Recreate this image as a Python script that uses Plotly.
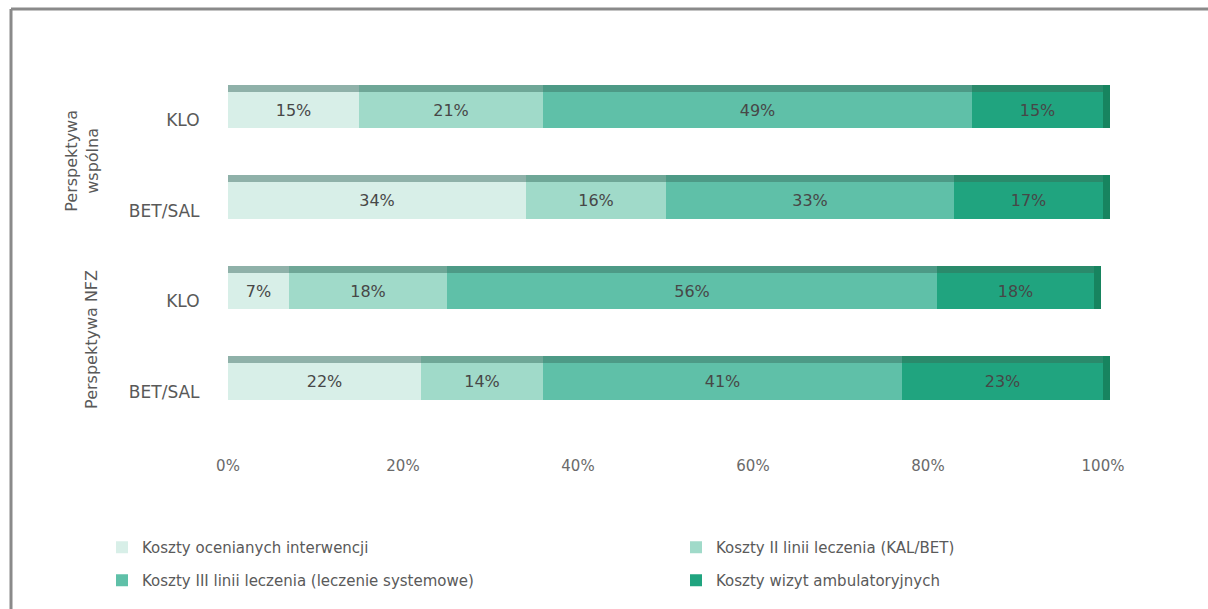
import plotly.graph_objects as go

# Cost structure by perspective and treatment arm (percent of total cost)
bar_labels = ["KLO", "BET/SAL", "KLO", "BET/SAL"]
group_labels = ["Perspektywa<br>wspólna", "Perspektywa NFZ"]
series_names = [
    "Koszty ocenianych interwencji",
    "Koszty II linii leczenia (KAL/BET)",
    "Koszty III linii leczenia (leczenie systemowe)",
    "Koszty wizyt ambulatoryjnych",
]
interventions = [15, 34, 7, 22]
second_line = [21, 16, 18, 14]
third_line = [49, 33, 56, 41]
outpatient = [15, 17, 18, 23]
x_ticks = [0, 20, 40, 60, 80, 100]

series_values = [interventions, second_line, third_line, outpatient]
face_colors = ["#d8efe8", "#a0dac9", "#5fc0a8", "#20a47f"]
top_colors = ["#8fb1a9", "#6fa797", "#4d9a86", "#2a8a6b"]
side_color = "#17845f"
side_depth = 0.8
legend_ids = ["legend", "legend2", "legend3", "legend4"]

W, H = 1208, 609
L, R, T, B = 228, 98, 63, 184
plot_w = W - L - R
plot_h = H - T - B

rows = list(range(len(bar_labels)))
totals = [sum(v) for v in zip(*series_values)]
fig = go.Figure()

# front faces of the stacked bars
for name, vals, col, lg in zip(series_names, series_values, face_colors, legend_ids):
    fig.add_trace(go.Bar(
        y=rows, x=vals, name=name, orientation="h",
        offset=-0.18, width=0.40,
        marker=dict(color=col, line=dict(width=0)),
        text=[f"{v}%" for v in vals], textposition="inside",
        insidetextanchor="middle", constraintext="none",
        textfont=dict(family="DejaVu Sans", size=16, color="#474747"),
        legend=lg, hoverinfo="skip",
    ))

# darker top faces giving the bars depth (own overlaid axis so they stack separately)
for name, vals, col in zip(series_names, series_values, top_colors):
    fig.add_trace(go.Bar(
        y=rows, x=vals, name=name, orientation="h",
        offset=-0.26, width=0.08, xaxis="x2",
        marker=dict(color=col, line=dict(width=0)),
        showlegend=False, hoverinfo="skip",
    ))

# right-hand side faces at the end of each bar
fig.add_trace(go.Bar(
    y=rows, x=[side_depth] * len(rows), base=totals, orientation="h",
    offset=-0.26, width=0.48, xaxis="x3",
    marker=dict(color=side_color, line=dict(width=0)),
    showlegend=False, hoverinfo="skip",
))

# legend laid out as a 2x2 grid: one single-entry legend per cell
legend_cells = [(102, 531), (676, 531), (102, 564), (676, 564)]
legend_layout = {}
for lg, (xpx, ypx) in zip(legend_ids, legend_cells):
    legend_layout[lg] = dict(
        orientation="h", xanchor="left", yanchor="top",
        x=(xpx - L) / plot_w, y=(T + plot_h - ypx) / plot_h,
        font=dict(size=15, color="#5a5a5a"), bgcolor="rgba(0,0,0,0)",
    )

x_range = [0, 100 + side_depth]
fig.update_layout(
    barmode="stack",
    width=W, height=H,
    margin=dict(l=L, r=R, t=T, b=B, autoexpand=False),
    paper_bgcolor="white", plot_bgcolor="white",
    font=dict(family="DejaVu Sans", size=15, color="#595959"),
    bargap=0,
    xaxis=dict(
        range=x_range, tickvals=x_ticks,
        ticktext=[f"{v}%" for v in x_ticks],
        showgrid=False, zeroline=False, showline=False,
        ticks="outside", ticklen=27, tickcolor="rgba(0,0,0,0)",
        tickfont=dict(size=15, color="#6a6a6a"),
    ),
    xaxis2=dict(overlaying="x", matches="x", visible=False),
    xaxis3=dict(overlaying="x", matches="x", visible=False),
    yaxis=dict(
        range=[3.5, -0.5], tickvals=rows, ticktext=bar_labels,
        showgrid=False, zeroline=False, showline=False,
        ticks="outside", ticklen=24, tickcolor="rgba(0,0,0,0)",
        ticklabelshift=-12,
        tickfont=dict(size=17, color="#595959"),
    ),
    showlegend=True,
    **legend_layout,
)

# group titles, rotated, centred beside each pair of bars
for label, xpx, centre in zip(group_labels, [82, 92], [0.58, 2.56]):
    fig.add_annotation(
        text=label, textangle=-90,
        xref="paper", x=(xpx - L) / plot_w, yref="y", y=centre,
        showarrow=False, font=dict(size=16, color="#595959"),
        xanchor="center", yanchor="middle",
    )

# frame lines along the top and left edges
frame_col = "#8a8a8a"
x_left = (11 - L) / plot_w
y_top = (T + plot_h - 9) / plot_h
fig.add_shape(type="line", xref="paper", yref="paper",
              x0=x_left, x1=(W - L) / plot_w, y0=y_top, y1=y_top,
              line=dict(color=frame_col, width=3))
fig.add_shape(type="line", xref="paper", yref="paper",
              x0=x_left, x1=x_left, y0=y_top, y1=(T + plot_h - H) / plot_h,
              line=dict(color=frame_col, width=3))

fig.write_html("out.html")
